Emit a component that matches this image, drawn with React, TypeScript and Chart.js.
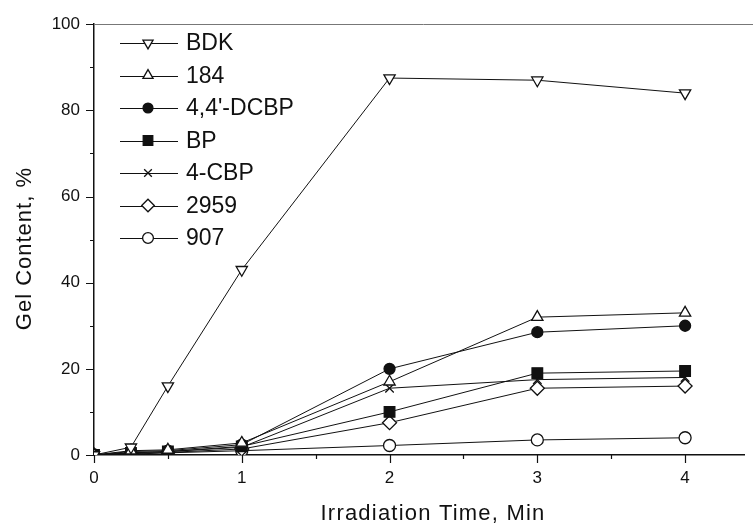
import React, { useEffect, useRef } from 'react';
import { Chart, registerables } from 'chart.js';
import { drawPoint } from 'chart.js/helpers';

Chart.register(...registerables);

const times = [0, 0.25, 0.5, 1, 2, 3, 4];
const bdk = [0, 1.8, 16, 43, 87.5, 87, 84];
const v184 = [0, 1, 1.2, 2.8, 17, 32, 33];
const dcbp = [0, 0.8, 1, 2.4, 20, 28.5, 30];
const bp = [0, 0.5, 0.8, 2, 10, 19, 19.5];
const cbp4 = [0, 0.5, 0.8, 1.8, 15.5, 17.5, 18];
const v2959 = [0, 0.3, 0.6, 1.4, 7.5, 15.5, 16];
const v907 = [0, 0.2, 0.5, 1, 2.2, 3.5, 4];

const seriesNames = ['BDK', '184', "4,4'-DCBP", 'BP', '4-CBP', '2959', '907'];
const seriesValues = [bdk, v184, dcbp, bp, cbp4, v2959, v907];
const pointStyles = ['triangle', 'triangle', 'circle', 'rect', 'crossRot', 'rectRot', 'circle'];
const pointRotations = [180, 0, 0, 0, 0, 0, 0];
const pointFilled = [false, false, true, true, false, false, false];
const pointSizes = [6.5, 6.5, 5.5, 7.5, 6, 7, 6];

const xTicks = [0, 1, 2, 3, 4];
const yTicks = [0, 20, 40, 60, 80, 100];
const xTitle = 'Irradiation Time, Min';
const yTitle = 'Gel Content, %';

const FONT = "'Liberation Sans', Arial, Helvetica, sans-serif";
const INK = '#111';

const axisTicksPlugin = {
  id: 'axisTicks',
  afterDraw(chart: any) {
    const { ctx, chartArea, scales } = chart;
    const x = scales.x;
    const y = scales.y;
    ctx.save();
    ctx.strokeStyle = INK;
    ctx.lineWidth = 1.2;
    ctx.beginPath();
    for (let v = 0; v <= 100; v += 10) {
      const py = Math.round(y.getPixelForValue(v)) + 0.5;
      const len = v % 20 === 0 ? 8 : 4;
      ctx.moveTo(chartArea.left - len, py);
      ctx.lineTo(chartArea.left, py);
    }
    for (let v = 0; v <= 4.4; v += 0.5) {
      const px = Math.round(x.getPixelForValue(v)) + 0.5;
      const len = Number.isInteger(v) ? 8 : 4;
      ctx.moveTo(px, chartArea.bottom);
      ctx.lineTo(px, chartArea.bottom + len);
    }
    ctx.stroke();
    // top frame line
    ctx.strokeStyle = '#777';
    ctx.lineWidth = 1;
    ctx.beginPath();
    ctx.moveTo(chartArea.left, Math.round(chartArea.top) + 0.5);
    ctx.lineTo(chart.width, Math.round(chartArea.top) + 0.5);
    ctx.stroke();

    // axis titles
    ctx.fillStyle = INK;
    ctx.font = `22px ${FONT}`;
    ctx.textAlign = 'center';
    ctx.textBaseline = 'alphabetic';
    (ctx as any).letterSpacing = '1.2px';
    ctx.fillText(xTitle, 433, 520);
    ctx.save();
    (ctx as any).letterSpacing = '1px';
    ctx.translate(31, (chartArea.top + chartArea.bottom) / 2 + 9);
    ctx.rotate(-Math.PI / 2);
    ctx.fillText(yTitle, 0, 0);
    ctx.restore();
    (ctx as any).letterSpacing = '0px';

    // legend
    const lx0 = 120;
    const lx1 = 178;
    const mx = 148;
    const ty = 186;
    const y0 = 43;
    const dy = 32.5;
    ctx.font = `23px ${FONT}`;
    ctx.textBaseline = 'middle';
    ctx.textAlign = 'left';
    chart.data.datasets.forEach((ds: any, i: number) => {
      const cy = y0 + i * dy;
      ctx.strokeStyle = INK;
      ctx.lineWidth = 1;
      ctx.beginPath();
      ctx.moveTo(lx0, Math.round(cy) + 0.5);
      ctx.lineTo(lx1, Math.round(cy) + 0.5);
      ctx.stroke();
      ctx.fillStyle = ds.pointBackgroundColor;
      ctx.strokeStyle = INK;
      ctx.lineWidth = 1.3;
      drawPoint(ctx, {
        pointStyle: ds.pointStyle,
        rotation: ds.pointRotation,
        radius: ds.pointRadius * 0.9,
        borderWidth: 1.3,
      } as any, mx, cy);
      ctx.fillStyle = INK;
      ctx.fillText(ds.label, ty, cy + 1);
    });
    ctx.restore();
  },
};

export default function App() {
  const ref = useRef<HTMLCanvasElement>(null);
  useEffect(() => {
    if (!ref.current) return;
    const datasets = seriesNames.map((name, i) => ({
      label: name,
      data: times.map((t, j) => ({ x: t, y: seriesValues[i][j] })),
      borderColor: INK,
      borderWidth: 1,
      pointStyle: pointStyles[i],
      pointRotation: pointRotations[i],
      pointRadius: pointSizes[i],
      pointBorderWidth: 1.3,
      pointBorderColor: INK,
      pointBackgroundColor: pointFilled[i] ? INK : '#fff',
      showLine: true,
      tension: 0,
    }));
    const chart = new Chart(ref.current, {
      type: 'line',
      data: { datasets } as any,
      options: {
        responsive: false,
        animation: false,
        devicePixelRatio: 1,
        layout: { padding: { top: 19, right: 6, left: 0, bottom: 0 } },
        plugins: { legend: { display: false }, tooltip: { enabled: false } },
        font: { family: FONT },
        scales: {
          x: {
            type: 'linear',
            min: 0,
            max: 4.4,
            grid: { display: false, drawTicks: false },
            border: { display: true, color: INK, width: 1.5 },
            ticks: {
              color: INK,
              font: { family: FONT, size: 17 },
              padding: 13,
              maxRotation: 0,
            },
            afterBuildTicks: (s: any) => {
              s.ticks = xTicks.map((v) => ({ value: v }));
            },
            afterFit: (s: any) => {
              s.height = 69;
            },
            title: { display: false },
          },
          y: {
            type: 'linear',
            min: 0,
            max: 100,
            grid: { display: false, drawTicks: false },
            border: { display: true, color: INK, width: 1.5 },
            ticks: {
              color: INK,
              font: { family: FONT, size: 17 },
              padding: 14,
            },
            afterBuildTicks: (s: any) => {
              s.ticks = yTicks.map((v) => ({ value: v }));
            },
            afterFit: (s: any) => {
              s.width = 94;
            },
            title: { display: false },
          },
        },
      } as any,
      plugins: [axisTicksPlugin],
    });
    return () => chart.destroy();
  }, []);
  return (
    <div style={{ position: 'absolute', left: 0, top: 0, width: 753, height: 524, background: '#fff' }}>
      <canvas ref={ref} width={753} height={524} style={{ display: 'block' }} />
    </div>
  );
}
